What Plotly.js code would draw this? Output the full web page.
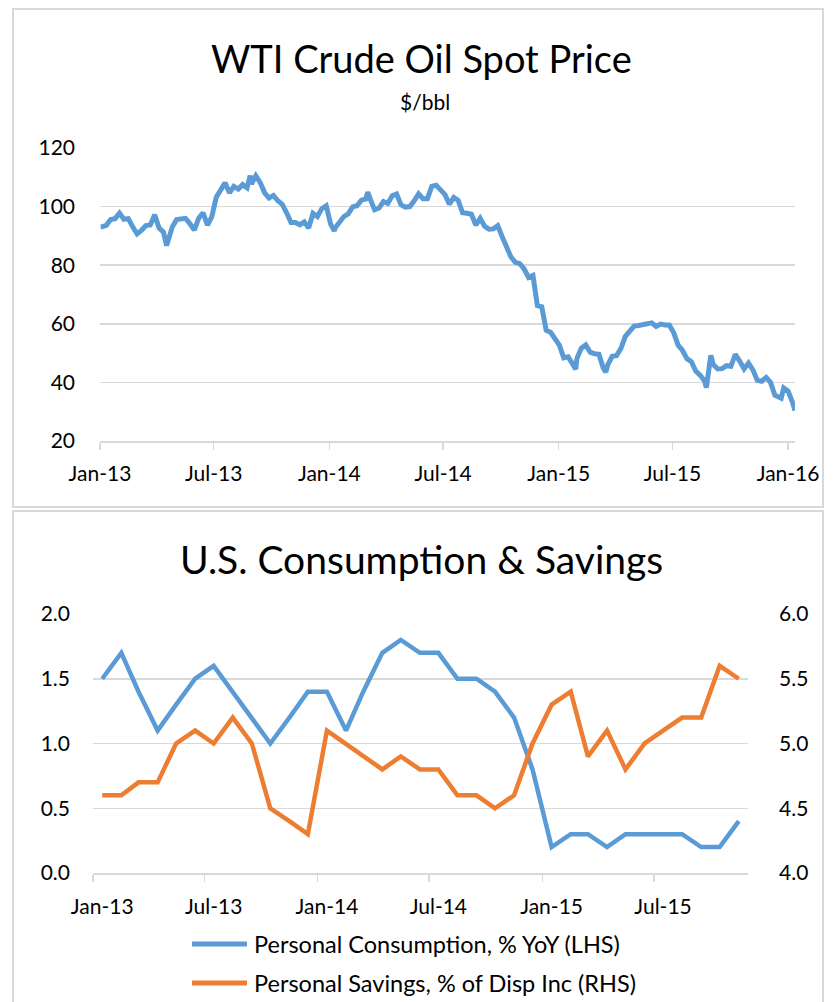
<!DOCTYPE html>
<html>
<head>
<meta charset="utf-8">
<script src="https://cdn.plot.ly/plotly-3.0.1.min.js"></script>
<style>
  html, body { margin: 0; padding: 0; background: #ffffff; }
  #chart { width: 838px; height: 1002px; }
</style>
</head>
<body>
<div id="chart"></div>
<script>
// ---------- DATA ----------
// WTI weekly (Friday) spot prices, $/bbl, starting 2013-01-04
const wtiWeeklyStart = '2013-01-04';
const wti2013 = [93.1, 93.6, 95.6, 95.9, 97.8, 95.7, 95.9, 93.1, 90.7, 91.9, 93.5, 93.7, 97.2, 92.7, 91.3, 88.0,
  93.0, 95.6, 96.0, 96.0, 94.2, 92.0, 96.0, 97.9, 93.7, 96.6, 103.2, 105.9, 108.1, 104.7, 106.9, 106.0,
  107.5, 106.4, 107.7, 110.5, 108.2, 104.7, 102.9, 103.8, 102.0, 100.8, 97.9, 94.6, 94.6, 93.8, 94.8, 92.7,
  97.7, 96.6, 99.3, 100.3];
const wti2014 = [94.0, 92.7, 94.4, 96.6, 97.5, 99.9, 100.3, 102.2, 102.6, 102.6, 98.9, 99.5, 101.7, 101.1, 103.7, 104.3,
  100.6, 99.8, 100.0, 102.0, 104.35, 102.7, 102.7, 106.9, 107.3, 105.7, 104.1, 100.8, 103.1, 102.1, 97.9, 97.7,
  97.4, 93.7, 96.0, 93.3, 92.3, 92.4, 93.5, 89.7, 85.8, 82.8, 81.0, 80.5, 78.7, 75.8, 76.5, 66.2,
  65.8, 57.8, 57.1, 54.7];
const wti2015 = [52.7, 48.4, 48.7, 46.3, 48.2, 51.7, 52.8, 50.3, 49.8, 49.6, 44.8, 46.0, 48.9, 49.1, 51.6, 55.7,
  57.2, 59.2, 59.4, 59.7, 59.7, 60.3, 59.1, 59.9, 59.6, 59.6, 56.9, 52.7, 50.9, 48.1, 47.1, 43.9,
  42.5, 40.5, 45.2, 46.1, 44.6, 44.7, 45.7, 45.5, 49.6, 47.3, 44.6, 46.6, 44.3, 40.7, 40.4, 41.7,
  40.0, 35.6, 34.7, 38.1];
const wti2016 = [37.0, 33.2];
// extra daily readings (highs / lows / endpoints)
const wtiExtraDates  = ['2013-01-02', '2013-04-17', '2013-08-28', '2014-01-09', '2014-03-03', '2015-01-28',
  '2015-03-17', '2015-08-24', '2015-08-31', '2015-12-21', '2016-01-12'];
const wtiExtraValues = [93.1, 86.7, 110.6, 91.7, 104.9, 44.5, 43.5, 38.2, 49.2, 34.6, 30.4];

// US consumption & savings, monthly Jan-2013 .. Nov-2015
const monthStart = '2013-01';
const consumptionYoY = [1.5, 1.7, 1.4, 1.1, 1.3, 1.5, 1.6, 1.4, 1.2, 1.0, 1.2, 1.4,
  1.4, 1.1, 1.4, 1.7, 1.8, 1.7, 1.7, 1.5, 1.5, 1.4, 1.2, 0.8,
  0.2, 0.3, 0.3, 0.2, 0.3, 0.3, 0.3, 0.3, 0.2, 0.2, 0.4];
const savingsRate = [4.6, 4.6, 4.7, 4.7, 5.0, 5.1, 5.0, 5.2, 5.0, 4.5, 4.4, 4.3,
  5.1, 5.0, 4.9, 4.8, 4.9, 4.8, 4.8, 4.6, 4.6, 4.5, 4.6, 5.0,
  5.3, 5.4, 4.9, 5.1, 4.8, 5.0, 5.1, 5.2, 5.2, 5.6, 5.5];

const tickLabelsTop = ['Jan-13', 'Jul-13', 'Jan-14', 'Jul-14', 'Jan-15', 'Jul-15', 'Jan-16'];
const tickDatesTop  = ['2013-01-01', '2013-07-01', '2014-01-01', '2014-07-01', '2015-01-01', '2015-07-01', '2016-01-01'];
const tickLabelsBottom = ['Jan-13', 'Jul-13', 'Jan-14', 'Jul-14', 'Jan-15', 'Jul-15'];
const tickDatesBottom  = ['2013-01-01', '2013-07-01', '2014-01-01', '2014-07-01', '2015-01-01', '2015-07-01'];

const titleTop = 'WTI Crude Oil Spot Price';
const subTitleTop = '$/bbl';
const titleBottom = 'U.S. Consumption &amp; Savings';
const legendNames = ['Personal Consumption, % YoY (LHS)', 'Personal Savings, % of Disp Inc (RHS)'];

// ---------- BUILD ----------
function isoDay(d) { return d.toISOString().slice(0, 10); }
const weekly = wti2013.concat(wti2014, wti2015, wti2016);
const s = new Date(wtiWeeklyStart + 'T00:00:00Z');
let pts = weekly.map((v, i) => ({ d: isoDay(new Date(s.getTime() + i * 7 * 86400000)), v: v }));
wtiExtraDates.forEach((d, i) => pts.push({ d: d, v: wtiExtraValues[i] }));
pts.sort((a, b) => a.d < b.d ? -1 : (a.d > b.d ? 1 : 0));
const wtiX = pts.map(p => p.d), wtiY = pts.map(p => p.v);

const [my, mm] = monthStart.split('-').map(Number);
const monthMid = consumptionYoY.map((_, i) => {
  const y = my + Math.floor((mm - 1 + i) / 12), m = (mm - 1 + i) % 12 + 1;
  return y + '-' + String(m).padStart(2, '0') + '-16';
});
const labelMid = tickDatesBottom.map(d => d.slice(0, 8) + '16');

// ---------- LAYOUT HELPERS ----------
const W = 838, H = 1002;
const px = x => x / W, py = y => 1 - y / H;
const FONT = 'Lato, "Open Sans", sans-serif';
const GRID = '#d9d9d9';
const BLUE = '#5b9bd5', ORANGE = '#ed7d31';

const traces = [
  { x: wtiX, y: wtiY, xaxis: 'x', yaxis: 'y', type: 'scatter', mode: 'lines',
    line: { color: BLUE, width: 5 }, showlegend: false, hoverinfo: 'x+y' },
  { x: monthMid, y: consumptionYoY, xaxis: 'x2', yaxis: 'y2', type: 'scatter', mode: 'lines',
    line: { color: BLUE, width: 4.5 }, name: legendNames[0], showlegend: false },
  { x: monthMid, y: savingsRate, xaxis: 'x2', yaxis: 'y3', type: 'scatter', mode: 'lines',
    line: { color: ORANGE, width: 4.5 }, name: legendNames[1], showlegend: false }
];

const tickFont = { family: FONT, size: 21, color: '#000000' };

const layout = {
  width: W, height: H,
  margin: { l: 0, r: 0, t: 0, b: 0 },
  paper_bgcolor: '#ffffff', plot_bgcolor: 'rgba(0,0,0,0)',
  showlegend: false,
  font: { family: FONT, color: '#000000' },
  xaxis: {
    domain: [px(100), px(795)], anchor: 'y', type: 'date',
    range: ['2013-01-01', '2016-01-12'],
    tickmode: 'array', tickvals: tickDatesTop, ticktext: tickLabelsTop,
    ticks: 'outside', ticklen: 7, tickwidth: 1.5, tickcolor: GRID,
    showline: true, linecolor: GRID, linewidth: 2,
    showgrid: false, zeroline: false, tickfont: tickFont, ticklabelstandoff: 6,
    fixedrange: true
  },
  yaxis: {
    domain: [py(441), py(148)], anchor: 'x',
    range: [20, 120], tickmode: 'array', tickvals: [20, 40, 60, 80, 100, 120],
    showgrid: true, gridcolor: GRID, gridwidth: 1.5, zeroline: false,
    showline: false, ticks: '', tickfont: tickFont, ticklabelstandoff: 24,
    fixedrange: true
  },
  xaxis2: {
    domain: [px(93), px(748)], anchor: 'y2', type: 'date',
    range: ['2013-01-01', '2015-12-01'],
    tickmode: 'array', tickvals: labelMid, ticktext: tickLabelsBottom,
    ticks: '', showline: true, linecolor: GRID, linewidth: 2,
    minor: { tickmode: 'array', tickvals: tickDatesBottom, ticks: 'outside', ticklen: 7,
             tickwidth: 1.5, tickcolor: GRID, showgrid: false },
    showgrid: false, zeroline: false, tickfont: tickFont, ticklabelstandoff: 14,
    fixedrange: true
  },
  yaxis2: {
    domain: [py(873), py(614)], anchor: 'x2',
    range: [0, 2], tickmode: 'array', tickvals: [0, 0.5, 1, 1.5, 2],
    tickformat: '.1f',
    showgrid: true, gridcolor: GRID, gridwidth: 1.5, zeroline: false,
    showline: false, ticks: '', tickfont: tickFont, ticklabelstandoff: 22,
    fixedrange: true
  },
  yaxis3: {
    overlaying: 'y2', side: 'right', anchor: 'x2',
    range: [4, 6], tickmode: 'array', tickvals: [4, 4.5, 5, 5.5, 6],
    tickformat: '.1f',
    showgrid: false, zeroline: false, showline: false, ticks: '',
    tickfont: tickFont, ticklabelstandoff: 30, fixedrange: true
  },
  shapes: [
    { type: 'rect', xref: 'paper', yref: 'paper', x0: px(13), x1: px(823), y0: py(507), y1: py(9),
      line: { color: GRID, width: 2 }, fillcolor: 'rgba(0,0,0,0)', layer: 'below' },
    { type: 'rect', xref: 'paper', yref: 'paper', x0: px(13), x1: px(823), y0: py(1012), y1: py(511),
      line: { color: GRID, width: 2 }, fillcolor: 'rgba(0,0,0,0)', layer: 'below' },
    { type: 'line', xref: 'paper', yref: 'paper', x0: px(192), x1: px(247), y0: py(944), y1: py(944),
      line: { color: BLUE, width: 5 } },
    { type: 'line', xref: 'paper', yref: 'paper', x0: px(192), x1: px(247), y0: py(983), y1: py(983),
      line: { color: ORANGE, width: 5 } }
  ],
  annotations: [
    { text: titleTop, xref: 'paper', yref: 'paper', x: px(421), y: py(58), xanchor: 'center', yanchor: 'middle',
      showarrow: false, font: { family: FONT, size: 38, color: '#000000' } },
    { text: subTitleTop, xref: 'paper', yref: 'paper', x: px(425), y: py(101), xanchor: 'center', yanchor: 'middle',
      showarrow: false, font: { family: FONT, size: 21, color: '#000000' } },
    { text: titleBottom, xref: 'paper', yref: 'paper', x: px(421), y: py(559), xanchor: 'center', yanchor: 'middle',
      showarrow: false, font: { family: FONT, size: 39, color: '#000000' } },
    { text: legendNames[0], xref: 'paper', yref: 'paper', x: px(252), y: py(944), xanchor: 'left', yanchor: 'middle',
      showarrow: false, font: { family: FONT, size: 23.5, color: '#000000' } },
    { text: legendNames[1], xref: 'paper', yref: 'paper', x: px(252), y: py(983), xanchor: 'left', yanchor: 'middle',
      showarrow: false, font: { family: FONT, size: 23.5, color: '#000000' } }
  ]
};

Plotly.newPlot('chart', traces, layout, { staticPlot: true, displayModeBar: false });
</script>
</body>
</html>
